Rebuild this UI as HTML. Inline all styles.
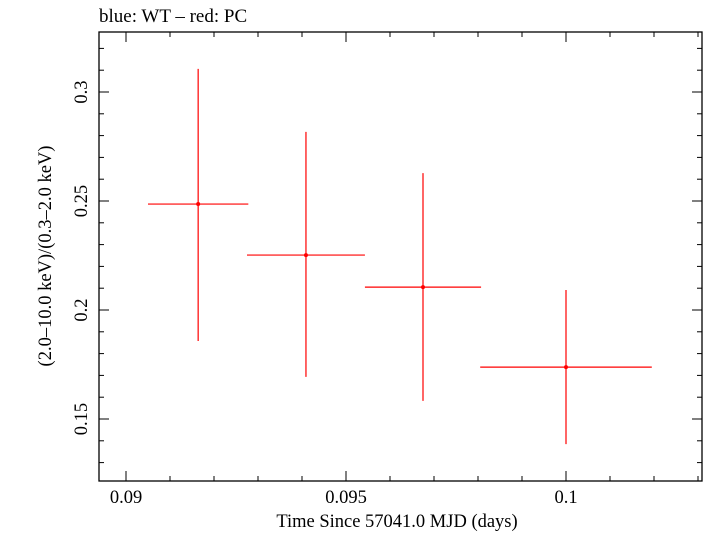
<!DOCTYPE html>
<html><head><meta charset="utf-8"><style>
body{margin:0;background:#fff;}
svg text{font-family:"Liberation Serif",serif;fill:#000;}
</style></head><body>
<svg id="c" width="705" height="532" xmlns="http://www.w3.org/2000/svg">
<text x="99" y="22" font-size="19">blue: WT – red: PC</text>
<rect x="99" y="32" width="603" height="449" fill="none" stroke="#000" stroke-width="1.3"/>
<g id="ticks"></g>
<g id="marks"></g>
<text x="397" y="527" font-size="18.5" text-anchor="middle">Time Since 57041.0 MJD (days)</text>
<text transform="translate(51,256) rotate(-90)" font-size="18.5" text-anchor="middle">(2.0–10.0 keV)/(0.3–2.0 keV)</text>
</svg>
<script>
const times=[0.09164,0.09409,0.09675,0.1];
const timeErr=[0.00114,0.00134,0.00132,0.00195];
const ratios=[0.2486,0.2252,0.2105,0.1738];
const ratioLo=[0.1858,0.1693,0.1583,0.1385];
const ratioHi=[0.3106,0.2817,0.2628,0.2092];
const xTickLabels=["0.09","0.095","0.1"];
const yTickLabels=["0.15","0.2","0.25","0.3"];
const L=99,R=702,T=32,B=481;
function X(v){return 126+(v-0.09)*44000;}
function Y(v){return 201-(v-0.25)*2180;}
const NS="http://www.w3.org/2000/svg";
function el(tag,attrs,parent){const e=document.createElementNS(NS,tag);for(const k in attrs)e.setAttribute(k,attrs[k]);parent.appendChild(e);return e;}
const tg=document.getElementById('ticks'),mg=document.getElementById('marks');
for(let i=-1;i<=13;i++){const v=0.09+i*0.001;const x=X(v);if(x<L||x>R)continue;const major=i%5===0;const len=major?10:5;
const a=el('line',{x1:x,x2:x,y1:B,y2:B-len,stroke:'#000','stroke-width':1},tg);


const b=el('line',{x1:x,x2:x,y1:T,y2:T+len,stroke:'#000','stroke-width':1},tg);

}
xTickLabels.forEach(s=>{const t=el('text',{x:X(parseFloat(s)),y:503,'font-size':18.5,'text-anchor':'middle'},tg);t.textContent=s;

});
for(let i=12;i<=34;i++){const v=i*0.01;const y=Y(v);if(y<T||y>B)continue;const major=i%5===0;const len=major?10:5;
const a=el('line',{x1:L,x2:L+len,y1:y,y2:y,stroke:'#000','stroke-width':1},tg);


const b=el('line',{x1:R,x2:R-len,y1:y,y2:y,stroke:'#000','stroke-width':1},tg);

}
yTickLabels.forEach(s=>{const y=Y(parseFloat(s));const t=el('text',{transform:`translate(87,${y}) rotate(-90)`,'font-size':18.5,'text-anchor':'middle'},tg);t.textContent=s;

});
times.forEach((t,i)=>{const g=el('g',{},mg);


el('line',{x1:X(t-timeErr[i]),x2:X(t+timeErr[i]),y1:Y(ratios[i]),y2:Y(ratios[i]),stroke:'#f00','stroke-width':1.2},g);
el('line',{x1:X(t),x2:X(t),y1:Y(ratioLo[i]),y2:Y(ratioHi[i]),stroke:'#f00','stroke-width':1.2},g);
el('circle',{cx:X(t),cy:Y(ratios[i]),r:2,fill:'#f00'},g);});
</script>
</body></html>
